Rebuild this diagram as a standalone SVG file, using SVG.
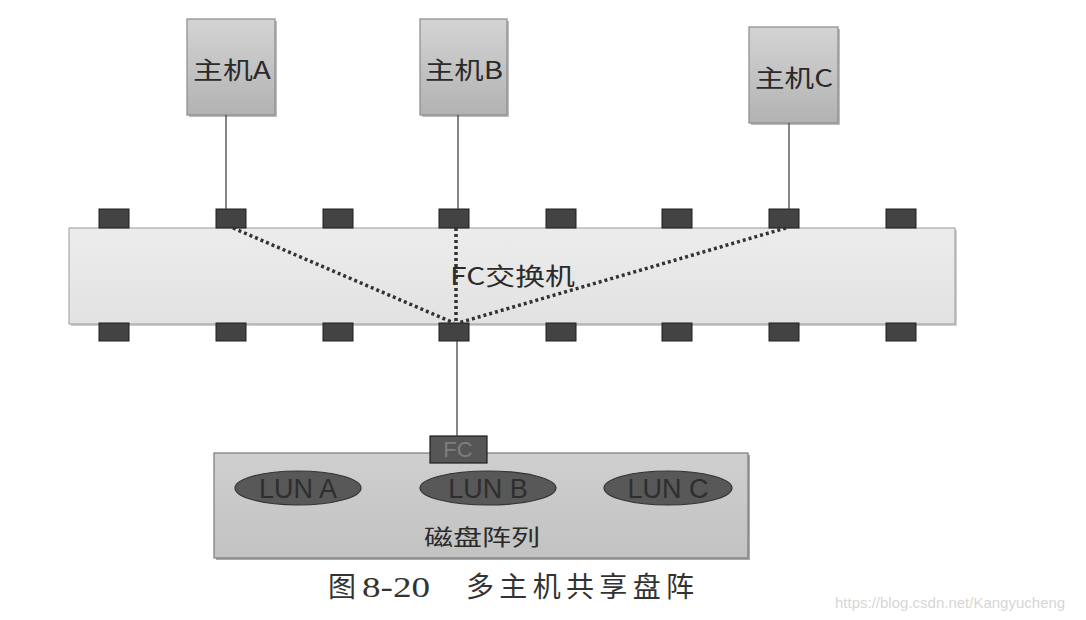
<svg xmlns="http://www.w3.org/2000/svg" width="1086" height="620" viewBox="0 0 1086 620">
<defs>
<linearGradient id="hostGrad" x1="0" y1="0" x2="0" y2="1">
<stop offset="0" stop-color="#d4d4d4"/>
<stop offset="1" stop-color="#b2b2b2"/>
</linearGradient>
<linearGradient id="swGrad" x1="0" y1="0" x2="0" y2="1">
<stop offset="0" stop-color="#ececec"/>
<stop offset="1" stop-color="#e2e2e2"/>
</linearGradient>
<linearGradient id="diskGrad" x1="0" y1="0" x2="0" y2="1">
<stop offset="0" stop-color="#cfcfcf"/>
<stop offset="1" stop-color="#c2c2c2"/>
</linearGradient>
</defs>
<style>
.host{fill:url(#hostGrad);stroke:#8a8a8a;stroke-width:1.2}
.shadow{fill:#bdbdbd}
.port{fill:#434343;stroke:#1e1e1e;stroke-width:1}
.lbl{font-family:"Noto Sans CJK SC","Liberation Sans",sans-serif;fill:#2a2a2a}
.lun{fill:#585858;stroke:#333;stroke-width:1.2}
.luntxt{font-family:"Liberation Sans","Noto Sans",sans-serif;font-size:27px;fill:#2e2e2e}
.wire{stroke:#444;stroke-width:1.3;fill:none}
.dots{stroke:#333;stroke-width:3.5;stroke-dasharray:3 3;fill:none}
.cap{font-family:"Liberation Serif","Noto Sans CJK SC",serif;fill:#333}
</style>
<rect width="1086" height="620" fill="#ffffff"/>

<g id="hostA">
<rect class="shadow" x="189" y="21" width="88" height="96"/>
<rect class="host" x="187" y="19" width="88" height="96"/>
<text class="lbl" x="193" y="79" font-size="24" textLength="78" lengthAdjust="spacingAndGlyphs">主机A</text>
</g>
<g id="hostB">
<rect class="shadow" x="422" y="21" width="87" height="96"/>
<rect class="host" x="420" y="19" width="87" height="96"/>
<text class="lbl" x="425" y="79" font-size="24" textLength="78" lengthAdjust="spacingAndGlyphs">主机B</text>
</g>
<g id="hostC">
<rect class="shadow" x="751" y="29" width="89" height="96"/>
<rect class="host" x="749" y="27" width="89" height="96"/>
<text class="lbl" x="755" y="87" font-size="24" textLength="78" lengthAdjust="spacingAndGlyphs">主机C</text>
</g>

<g id="switch">
<rect x="71" y="230" width="886" height="96" fill="#cfcfcf"/>
<rect x="69" y="228" width="886" height="96" fill="url(#swGrad)" stroke="#9a9a9a" stroke-width="1"/>
<text class="lbl" x="450" y="285" font-size="24" textLength="125" lengthAdjust="spacingAndGlyphs">FC交换机</text>
</g>

<g id="ports">
<rect class="port" x="99" y="209" width="30" height="19"/>
<rect class="port" x="216" y="209" width="30" height="19"/>
<rect class="port" x="323" y="209" width="30" height="19"/>
<rect class="port" x="439" y="209" width="30" height="19"/>
<rect class="port" x="546" y="209" width="30" height="19"/>
<rect class="port" x="662" y="209" width="30" height="19"/>
<rect class="port" x="769" y="209" width="30" height="19"/>
<rect class="port" x="886" y="209" width="30" height="19"/>
<rect class="port" x="99" y="323" width="30" height="18"/>
<rect class="port" x="216" y="323" width="30" height="18"/>
<rect class="port" x="323" y="323" width="30" height="18"/>
<rect class="port" x="439" y="323" width="30" height="18"/>
<rect class="port" x="546" y="323" width="30" height="18"/>
<rect class="port" x="662" y="323" width="30" height="18"/>
<rect class="port" x="769" y="323" width="30" height="18"/>
<rect class="port" x="886" y="323" width="30" height="18"/>
</g>

<g id="diskArray">
<rect x="216" y="455" width="534" height="105" fill="#aaaaaa"/>
<rect x="214" y="453" width="534" height="105" fill="url(#diskGrad)" stroke="#7a7a7a" stroke-width="1.2"/>
<text class="lbl" x="424" y="545" font-size="22" textLength="116" lengthAdjust="spacingAndGlyphs">磁盘阵列</text>
</g>
<g id="lunA">
<ellipse class="lun" cx="298" cy="488" rx="63" ry="17"/>
<text class="luntxt" x="298" y="498" text-anchor="middle">LUN A</text>
</g>
<g id="lunB">
<ellipse class="lun" cx="488" cy="488" rx="68" ry="17"/>
<text class="luntxt" x="488" y="498" text-anchor="middle">LUN B</text>
</g>
<g id="lunC">
<ellipse class="lun" cx="668" cy="488" rx="64" ry="17"/>
<text class="luntxt" x="668" y="498" text-anchor="middle">LUN C</text>
</g>
<g id="fcPort">
<rect x="430" y="436" width="57" height="27" fill="#565656" stroke="#1e1e1e" stroke-width="1.2"/>
<text x="458" y="457" text-anchor="middle" font-family="Liberation Sans, sans-serif" font-size="22" fill="#7e7e7e">FC</text>
</g>

<g id="connectors">
<line class="wire" x1="226" y1="115" x2="226" y2="209"/>
<line class="wire" x1="458" y1="115" x2="458" y2="209"/>
<line class="wire" x1="789" y1="123" x2="789" y2="209"/>
<line class="wire" x1="457" y1="341" x2="457" y2="436"/>
<line class="dots" x1="233" y1="228" x2="454" y2="323"/>
<line class="dots" x1="456" y1="228" x2="456" y2="323"/>
<line class="dots" x1="786" y1="228" x2="458" y2="323"/>
</g>

<g id="caption">
<text class="cap" x="328" y="597" font-size="28">图</text>
<text class="cap" x="362" y="597" font-size="29" textLength="68" lengthAdjust="spacingAndGlyphs">8-20</text>
<text class="cap" x="466" y="597" font-size="28" textLength="228" lengthAdjust="spacing">多主机共享盘阵</text>
</g>
<text x="835" y="608" font-family="Liberation Sans, sans-serif" font-size="15" fill="#d6d6d6">https://blog.csdn.net/Kangyucheng</text>
</svg>
